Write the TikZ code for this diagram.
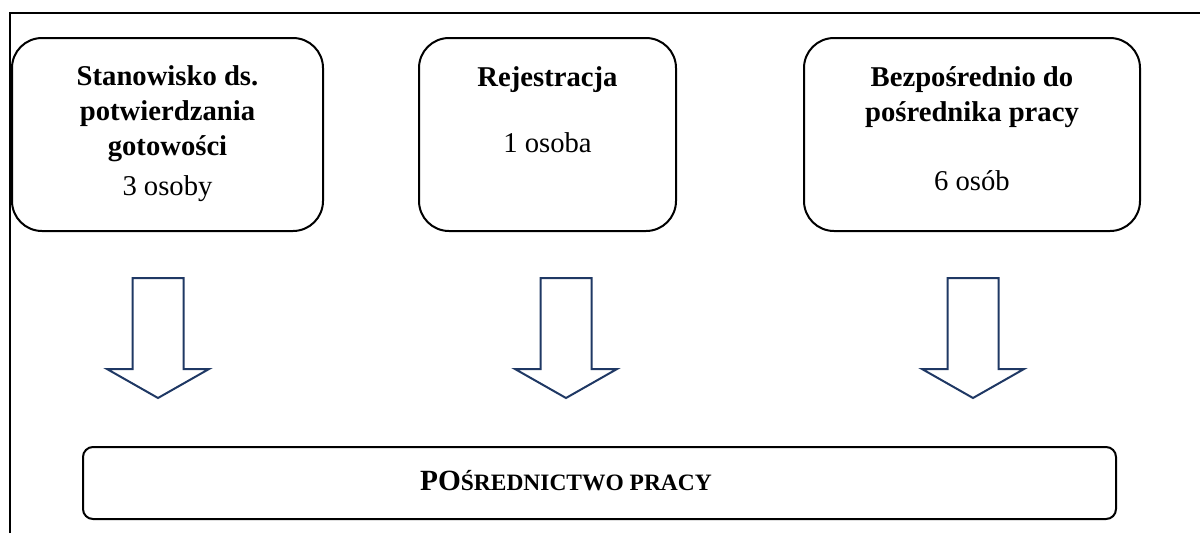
\documentclass[tikz,border=0pt]{standalone}
\usepackage{fontspec}
\setmainfont{Liberation Serif}
\usetikzlibrary{positioning}
\usetikzlibrary{calc}

\definecolor{arrowblue}{RGB}{31,56,100}

\begin{document}
\begin{tikzpicture}[x=0.75pt,y=-0.75pt,
	stbox/.style={rectangle, rounded corners=22.5pt, draw=black, line width=1.5pt, minimum height=144.75pt},
	endbox/.style={rectangle, rounded corners=7.5pt, draw=black, line width=1.5pt, minimum width=774.75pt, minimum height=54pt},
	boxtext/.style={align=center, anchor=base, inner sep=0pt, font=\fontsize{21.5}{25.9}\selectfont},
	downarrow/.style={draw=arrowblue, line width=1.5pt, line join=miter}]
	\useasboundingbox (0,0) rectangle (1200,533);
	% frame
	\draw[line width=1.8pt] (10,533) -- (10,13) -- (1200,13);
	% top boxes
	\node[stbox, minimum width=233.25pt] (stan) at (167.5,134.5) {};
	\node[stbox, minimum width=192.75pt] (rej) at (547.5,134.5) {};
	\node[stbox, minimum width=252pt] (bezp) at (972,134.5) {};
	% base of a multi-line node = its last line
	\node[boxtext] (stantxt) at (167.5,195) {\textbf{Stanowisko ds.}\\\textbf{potwierdzania}\\\textbf{gotowości}\\[4.1pt]3 osoby};
	\node[boxtext] (rejtxt) at (547.5,152) {\textbf{Rejestracja}\\[23.6pt]1 osoba};
	\node[boxtext] (bezptxt) at (972,190) {\textbf{Bezpośrednio do}\\\textbf{pośrednika pracy}\\[25.85pt]6 osób};
	% arrows
	\foreach \x/\n in {158/a, 566/b, 973/c}{
		\coordinate (arr\n) at (\x,278);
		\draw[downarrow] (arr\n) ++(-25.5,0) -- ++(0,91) -- ++(-25.5,0) -- ++(51,29) -- ++(51,-29) -- ++(-25.5,0) -- ++(0,-91) -- cycle;
	}
	% bottom box
	\node[endbox] (posr) at (599.5,483) {};
	\node[anchor=base, inner sep=0pt, font=\fontsize{22}{26}\selectfont\bfseries] (posrtxt) at (566,490) {PO{\fontsize{17.6}{20}\selectfont ŚREDNICTWO PRACY}};
\end{tikzpicture}
\end{document}
